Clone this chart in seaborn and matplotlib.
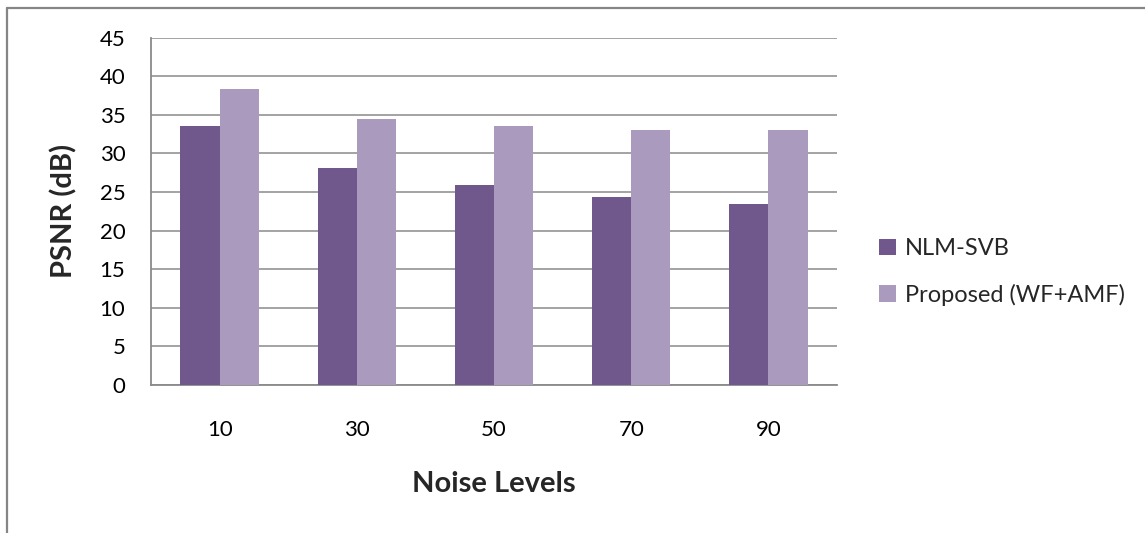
import matplotlib
matplotlib.use("Agg")
import matplotlib.pyplot as plt
from matplotlib.lines import Line2D
import seaborn as sns
import pandas as pd

# PSNR (dB) per noise level for the two denoising methods
noise_levels = ["10", "30", "50", "70", "90"]
nlm_svb = [33.6, 28.1, 25.9, 24.4, 23.4]
proposed = [38.3, 34.5, 33.5, 33.1, 33.0]
series_names = ["NLM-SVB", "Proposed (WF+AMF)"]
y_ticks = [0, 5, 10, 15, 20, 25, 30, 35, 40, 45]

df = pd.DataFrame({
    "Noise": noise_levels * 2,
    "PSNR": nlm_svb + proposed,
    "Method": [series_names[0]] * len(noise_levels) + [series_names[1]] * len(noise_levels),
})

sns.set_theme(style="white")
plt.rcParams["font.family"] = ["Lato", "DejaVu Sans"]

W, H = 1145, 533
fig = plt.figure(figsize=(W / 100, H / 100), dpi=100)
ax = fig.add_axes([151 / W, 1 - 385 / H, (837 - 151) / W, (385 - 37.7) / H])

palette = {series_names[0]: "#70588C", series_names[1]: "#A99ABE"}
sns.barplot(data=df, x="Noise", y="PSNR", hue="Method", hue_order=series_names,
            order=noise_levels, palette=palette, width=0.571, gap=0,
            saturation=1, ax=ax, legend=True, edgecolor="none", zorder=3)

grid_col = "#8A8A8A"
ax.set_ylim(0, 45)
ax.set_xlim(-0.5, len(noise_levels) - 0.5)
ax.set_yticks(y_ticks)
ax.set_yticklabels([str(t) for t in y_ticks])
ax.yaxis.grid(True, color=grid_col, linewidth=1.1, zorder=0)
ax.set_axisbelow(True)

# category labels at centres, tick marks at category boundaries
ax.set_xticks(range(len(noise_levels)))
ax.set_xticklabels(noise_levels)
ax.tick_params(axis="x", which="major", length=0, pad=25, labelsize=16, colors="black")
ax.set_xticks([i - 0.5 for i in range(len(noise_levels) + 1)], minor=True)
ax.tick_params(axis="x", which="minor", length=6, width=1.2, color=grid_col, direction="out")
ax.tick_params(axis="y", length=6.5, width=1.2, color=grid_col, direction="out",
               labelsize=16, labelcolor="black", pad=12)

for side in ["top", "right"]:
    ax.spines[side].set_visible(False)
for side in ["left", "bottom"]:
    ax.spines[side].set_color(grid_col)
    ax.spines[side].set_linewidth(1.3)

ax.set_xlabel("Noise Levels", fontsize=21, fontweight="bold")
ax.xaxis.set_label_coords(0.5, -(484 - 385) / (385 - 37.7), transform=ax.transAxes)
ax.xaxis.label.set_verticalalignment("center")
ax.set_ylabel("PSNR (dB)", fontsize=21, fontweight="bold")
ax.yaxis.set_label_coords(-(151 - 64) / (837 - 151), 0.5, transform=ax.transAxes)
ax.yaxis.label.set_verticalalignment("center")

handles, labels = ax.get_legend_handles_labels()
ax.legend(handles, labels, loc="center left", bbox_to_anchor=(858 / W, 1 - 272 / H),
          bbox_transform=fig.transFigure, frameon=False, fontsize=17,
          handlelength=0.7, handleheight=0.7, handletextpad=0.4, labelspacing=1.05)

# outer chart frame
frame_col = "#868686"
fig.add_artist(Line2D([6.5 / W, 1], [1 - 8 / H, 1 - 8 / H], color=frame_col, lw=1.6,
                      transform=fig.transFigure))
fig.add_artist(Line2D([6.5 / W, 6.5 / W], [0, 1 - 8 / H], color=frame_col, lw=1.6,
                      transform=fig.transFigure))

fig.savefig("out.png", dpi=100, facecolor="white")
